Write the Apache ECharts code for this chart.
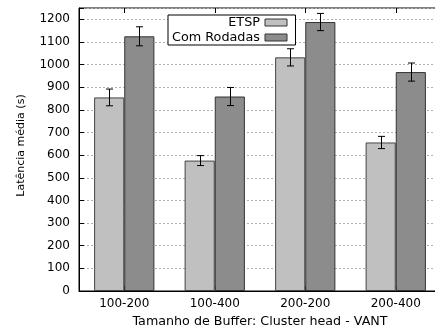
<!DOCTYPE html>
<html>
<head>
<meta charset="utf-8">
<script src="https://cdn.jsdelivr.net/npm/echarts@6/dist/echarts.min.js"></script>
<style>
  html, body { margin: 0; padding: 0; background: #fff; }
  #chart { width: 435px; height: 333px; }
</style>
</head>
<body>
<div id="chart"></div>
<script>
// Buffer size configurations (cluster head - VANT)
const categories = ['100-200', '100-400', '200-200', '200-400'];

// Mean latency (s) and error half-widths per configuration
const etspMean = [855, 576, 1032, 656];
const etspErr = [37, 22, 38, 27];
const rodadasMean = [1125, 859, 1188, 967];
const rodadasErr = [42, 40, 38, 40];

const yTicks = { min: 0, max: 1250, interval: 100 };

const FONT = 'DejaVu Sans';
const chart = echarts.init(document.getElementById('chart'), null, { renderer: 'canvas' });

// Error bars: vertical whisker with caps, shifted to the matching bar's centre
function errorSeries(name, means, errs, side) {
  return {
    type: 'custom',
    name: name + ' erro',
    z: 5,
    silent: true,
    data: means.map((m, i) => [i, m - errs[i], m + errs[i]]),
    renderItem: function (params, api) {
      const band = api.size([1, 0])[0];
      const lo = api.coord([api.value(0), api.value(1)]);
      const hi = api.coord([api.value(0), api.value(2)]);
      const x = Math.round(lo[0] + side * band / 6) + 0.5;
      const cap = 3.5;
      const style = { stroke: '#000', lineWidth: 1, fill: null };
      return {
        type: 'group',
        children: [
          { type: 'line', shape: { x1: x, y1: hi[1], x2: x, y2: lo[1] }, style: style },
          { type: 'line', shape: { x1: x - cap, y1: hi[1], x2: x + cap, y2: hi[1] }, style: style },
          { type: 'line', shape: { x1: x - cap, y1: lo[1], x2: x + cap, y2: lo[1] }, style: style }
        ]
      };
    }
  };
}

const option = {
  animation: false,
  backgroundColor: '#fff',
  textStyle: { fontFamily: FONT },
  grid: {
    left: 79, top: 8, width: 362, height: 283,
    outerBoundsMode: 'none',
    containLabel: false,
    show: true, borderColor: '#000', borderWidth: 1, backgroundColor: 'transparent'
  },
  legend: {
    orient: 'vertical',
    left: 168, top: 15,
    align: 'right',
    icon: 'rect',
    itemWidth: 22, itemHeight: 7,
    itemGap: 0,
    padding: [0, 8, 0, 2],
    backgroundColor: '#fff',
    borderColor: '#000', borderWidth: 1,
    textStyle: { fontFamily: FONT, fontSize: 12.8, lineHeight: 15, color: '#000', width: 90, align: 'right' },
    data: [
      { name: 'ETSP', itemStyle: { color: '#c0c0c0', borderColor: '#333', borderWidth: 1 } },
      { name: 'Com Rodadas', itemStyle: { color: '#8c8c8c', borderColor: '#333', borderWidth: 1 } }
    ]
  },
  xAxis: [
    {
      type: 'category',
      data: categories,
      position: 'bottom',
      name: 'Tamanho de Buffer: Cluster head - VANT',
      nameLocation: 'middle',
      nameGap: 24,
      nameTextStyle: { fontFamily: FONT, fontSize: 12.7, color: '#000' },
      axisLine: { show: true, lineStyle: { color: '#000', width: 1 } },
      axisTick: { show: true, inside: true, length: 5, alignWithLabel: true, lineStyle: { color: '#000' } },
      axisLabel: { fontFamily: FONT, fontSize: 12, color: '#000', margin: 7 },
      splitLine: { show: false }
    },
    {
      type: 'category',
      data: categories,
      position: 'top',
      axisLine: { show: false },
      axisTick: { show: true, inside: true, length: 5, alignWithLabel: true, lineStyle: { color: '#000' } },
      axisLabel: { show: false },
      splitLine: { show: false }
    }
  ],
  yAxis: {
    type: 'value',
    min: yTicks.min, max: yTicks.max, interval: yTicks.interval,
    name: 'Latência média (s)',
    nameLocation: 'middle',
    nameGap: 52,
    nameTextStyle: { fontFamily: FONT, fontSize: 11, color: '#000', padding: [0, 0, 0, 8] },
    axisLine: { show: true, lineStyle: { color: '#000', width: 1 } },
    axisTick: { show: true, inside: true, length: 5, lineStyle: { color: '#000' } },
    axisLabel: {
      fontFamily: FONT, fontSize: 12, color: '#000', margin: 9,
      formatter: v => (v % 100 === 0 ? String(v) : '')
    },
    splitLine: { show: true, lineStyle: { color: '#b0b0b0', type: [2, 2], width: 1 } }
  },
  series: [
    {
      name: 'ETSP', type: 'bar', data: etspMean,
      barGap: 0, barCategoryGap: '33.4%',
      itemStyle: { color: '#c0c0c0', borderColor: '#444', borderWidth: 1 }
    },
    {
      name: 'Com Rodadas', type: 'bar', data: rodadasMean,
      barGap: 0, barCategoryGap: '33.4%',
      itemStyle: { color: '#8c8c8c', borderColor: '#333', borderWidth: 1 }
    },
    errorSeries('ETSP', etspMean, etspErr, -1),
    errorSeries('Com Rodadas', rodadasMean, rodadasErr, 1)
  ]
};

chart.setOption(option);
</script>
</body>
</html>
